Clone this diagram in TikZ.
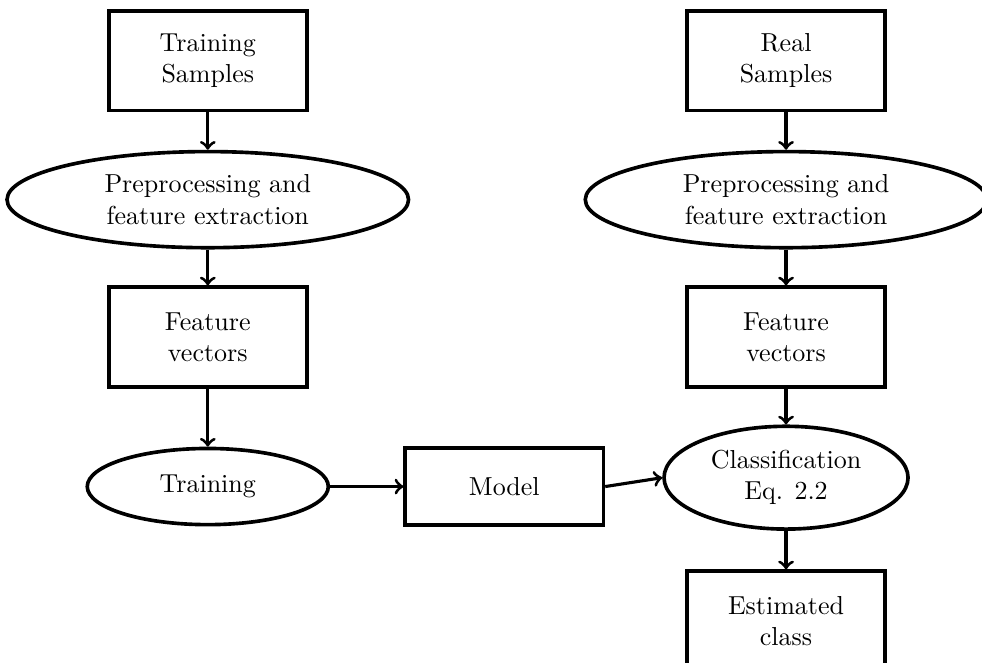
\documentclass[tikz,border=0pt]{standalone}
\usetikzlibrary{shapes.geometric}

\begin{document}
\begin{tikzpicture}[
    box/.style={draw, line width=1.4pt, rectangle, align=center, minimum width=2.68cm, minimum height=1.35cm},
    oval/.style={draw, line width=1.4pt, ellipse, align=center, inner sep=1pt},
    flow/.style={->, line width=1.2pt}]
      \useasboundingbox (0,0) rectangle (13.28,-8.96);
      % left column
      \node[box] (ts) at (2.81,-0.82) {Training\\Samples};
      \node[oval, minimum width=5.43cm, minimum height=1.3cm] (pl) at (2.81,-2.7) {Preprocessing and\\feature extraction};
      \node[box] (fl) at (2.81,-4.56) {Feature\\vectors};
      \node[oval, minimum width=3.26cm, minimum height=1.03cm] (tr) at (2.81,-6.58) {Training};
      % middle
      \node[box, minimum height=1.04cm] (model) at (6.82,-6.58) {Model};
      % right column
      \node[box] (rs) at (10.63,-0.82) {Real\\Samples};
      \node[oval, minimum width=5.43cm, minimum height=1.3cm] (pr) at (10.63,-2.7) {Preprocessing and\\feature extraction};
      \node[box] (fr) at (10.63,-4.56) {Feature\\vectors};
      \node[oval, minimum width=3.3cm, minimum height=1.39cm] (cl) at (10.63,-6.46) {Classification\\Eq. 2.2};
      \node[box] (ec) at (10.63,-8.4) {Estimated\\class};
      % arrows
      \draw[flow] (ts) -- (pl);
      \draw[flow] (pl) -- (fl);
      \draw[flow] (fl) -- (tr);
      \draw[flow] (tr) -- (model);
      \draw[flow] (model.east) -- (cl.west);
      \draw[flow] (rs) -- (pr);
      \draw[flow] (pr) -- (fr);
      \draw[flow] (fr) -- (cl);
      \draw[flow] (cl) -- (ec);
\end{tikzpicture}
\end{document}
